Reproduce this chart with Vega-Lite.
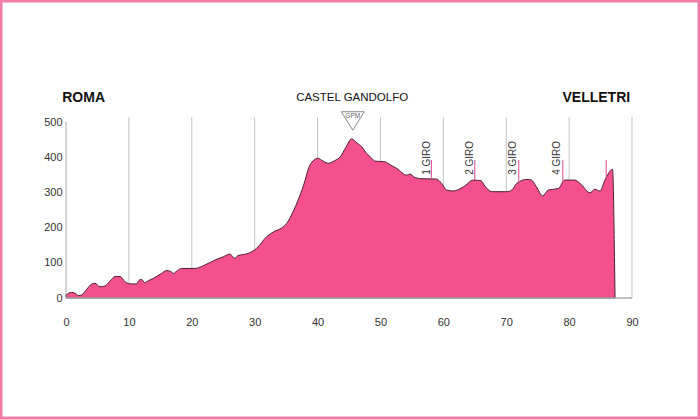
{
  "$schema": "https://vega.github.io/schema/vega-lite/v6.json",
  "width": 700,
  "height": 419,
  "autosize": {"type": "none"},
  "padding": 0,
  "background": "white",
  "config": {
    "view": {"stroke": "#f07ca8", "strokeWidth": 5},
    "font": "Liberation Sans",
    "text": {"font": "Liberation Sans"},
    "axis": {"labelFont": "Liberation Sans", "labelFontSize": 11, "labelColor": "#333333", "title": null}
  },
  "datasets": {
    "profile": [
      {"km": 0, "elev": 9}, {"km": 0.9, "elev": 16}, {"km": 1.4, "elev": 14}, {"km": 2.0, "elev": 7},
      {"km": 2.5, "elev": 9}, {"km": 3.3, "elev": 25}, {"km": 4.1, "elev": 40}, {"km": 4.6, "elev": 42},
      {"km": 5.4, "elev": 32}, {"km": 6.2, "elev": 34}, {"km": 7.0, "elev": 48}, {"km": 7.8, "elev": 61},
      {"km": 8.6, "elev": 61}, {"km": 9.4, "elev": 46}, {"km": 10.4, "elev": 40}, {"km": 11.2, "elev": 40},
      {"km": 11.6, "elev": 50}, {"km": 12.0, "elev": 53}, {"km": 12.5, "elev": 44}, {"km": 13.2, "elev": 50},
      {"km": 13.9, "elev": 56}, {"km": 15.2, "elev": 70}, {"km": 16.0, "elev": 78}, {"km": 16.6, "elev": 76},
      {"km": 17.1, "elev": 70}, {"km": 17.7, "elev": 78}, {"km": 18.4, "elev": 84}, {"km": 20.5, "elev": 84},
      {"km": 22.1, "elev": 94}, {"km": 23.7, "elev": 108}, {"km": 25.0, "elev": 117}, {"km": 26.1, "elev": 125},
      {"km": 26.6, "elev": 115}, {"km": 26.9, "elev": 113}, {"km": 27.3, "elev": 120}, {"km": 27.7, "elev": 122},
      {"km": 29.0, "elev": 127}, {"km": 30.3, "elev": 141}, {"km": 31.9, "elev": 174}, {"km": 33.0, "elev": 188},
      {"km": 34.2, "elev": 198}, {"km": 35.1, "elev": 212}, {"km": 36.1, "elev": 245}, {"km": 37.7, "elev": 316},
      {"km": 38.8, "elev": 378}, {"km": 40.1, "elev": 397}, {"km": 40.6, "elev": 392}, {"km": 41.7, "elev": 383},
      {"km": 42.7, "elev": 390}, {"km": 43.6, "elev": 401}, {"km": 44.5, "elev": 428}, {"km": 45.4, "elev": 452},
      {"km": 46.3, "elev": 440}, {"km": 47.0, "elev": 430}, {"km": 47.8, "elev": 411}, {"km": 48.6, "elev": 397},
      {"km": 49.1, "elev": 389}, {"km": 50.7, "elev": 387}, {"km": 51.6, "elev": 378}, {"km": 52.6, "elev": 368},
      {"km": 54.2, "elev": 349}, {"km": 54.7, "elev": 352}, {"km": 55.5, "elev": 342}, {"km": 56.6, "elev": 339},
      {"km": 58.9, "elev": 338}, {"km": 59.7, "elev": 326}, {"km": 60.5, "elev": 307}, {"km": 61.6, "elev": 304},
      {"km": 63.2, "elev": 316}, {"km": 64.8, "elev": 335}, {"km": 66.0, "elev": 333}, {"km": 66.6, "elev": 318},
      {"km": 67.7, "elev": 302}, {"km": 70.1, "elev": 302}, {"km": 70.9, "elev": 307}, {"km": 71.7, "elev": 326},
      {"km": 73.3, "elev": 337}, {"km": 74.0, "elev": 335}, {"km": 74.8, "elev": 316}, {"km": 75.8, "elev": 290},
      {"km": 76.7, "elev": 307}, {"km": 78.3, "elev": 311}, {"km": 79.3, "elev": 335}, {"km": 80.9, "elev": 335},
      {"km": 82.0, "elev": 321}, {"km": 83.3, "elev": 299}, {"km": 84.1, "elev": 309}, {"km": 84.9, "elev": 304},
      {"km": 85.7, "elev": 335}, {"km": 86.9, "elev": 366}, {"km": 87.3, "elev": 0}
    ],
    "grid": [
      {"km": 10}, {"km": 20}, {"km": 30}, {"km": 40}, {"km": 50}, {"km": 60}, {"km": 70}, {"km": 80}, {"km": 90}
    ],
    "giro": [
      {"km": 58.1, "top": 392, "bottom": 338, "label": "1 GIRO", "labelKm": 57.4},
      {"km": 65.0, "top": 392, "bottom": 335, "label": "2 GIRO", "labelKm": 64.2},
      {"km": 72.0, "top": 392, "bottom": 330, "label": "3 GIRO", "labelKm": 71.1},
      {"km": 79.0, "top": 392, "bottom": 330, "label": "4 GIRO", "labelKm": 78.0},
      {"km": 85.9, "top": 392, "bottom": 340, "label": "", "labelKm": 85.2}
    ],
    "places": [
      {"km": -0.6, "elev": 568, "name": "ROMA", "pos": "left"},
      {"km": 45.5, "elev": 568, "name": "CASTEL GANDOLFO", "pos": "center"},
      {"km": 89.7, "elev": 568, "name": "VELLETRI", "pos": "right"}
    ],
    "gpm": [
      {"km": 45.6, "elev": 503, "textElev": 517, "label": "GPM"}
    ]
  },
  "layer": [
    {
      "data": {"name": "grid"},
      "mark": {"type": "rule", "color": "#c4c4c4", "strokeWidth": 1},
      "encoding": {
        "x": {"field": "km", "type": "quantitative", "title": null,
          "scale": {"domain": [-10.494, 100.81], "nice": false, "zero": false},
          "axis": {"title": null, "orient": "bottom", "offset": -121, "values": [0, 10, 20, 30, 40, 50, 60, 70, 80, 90], "domain": false, "ticks": false, "grid": false, "labelPadding": 18}},
        "y": {"datum": 0, "type": "quantitative", "title": null,
          "scale": {"domain": [-343.7, 846.6], "nice": false, "zero": false},
          "axis": {"title": null, "orient": "left", "offset": -66, "values": [0, 100, 200, 300, 400, 500], "domain": false, "ticks": false, "grid": false, "labelPadding": 4}},
        "y2": {"datum": 514}
      }
    },
    {
      "data": {"name": "profile"},
      "mark": {"type": "area", "color": "#f5508e", "stroke": "#4a2030", "strokeWidth": 1, "interpolate": "monotone", "opacity": 1},
      "encoding": {
        "x": {"field": "km", "type": "quantitative"},
        "y": {"field": "elev", "type": "quantitative"}
      }
    },
    {
      "data": {"values": [{"a": 1}]},
      "mark": {"type": "rule", "color": "#aaaaaa", "strokeWidth": 1.5},
      "encoding": {
        "x": {"datum": 0, "type": "quantitative"},
        "x2": {"datum": 90},
        "y": {"datum": 0, "type": "quantitative"}
      }
    },
    {
      "data": {"values": [{"a": 1}]},
      "mark": {"type": "rule", "color": "#aaaaaa", "strokeWidth": 1},
      "encoding": {
        "x": {"datum": 0, "type": "quantitative"},
        "y": {"datum": 0, "type": "quantitative"},
        "y2": {"datum": 500}
      }
    },
    {
      "data": {"name": "giro"},
      "mark": {"type": "rule", "color": "#d9478a", "strokeWidth": 1},
      "encoding": {
        "x": {"field": "km", "type": "quantitative"},
        "y": {"field": "top", "type": "quantitative"},
        "y2": {"field": "bottom"}
      }
    },
    {
      "data": {"name": "giro"},
      "mark": {"type": "text", "angle": 270, "align": "left", "baseline": "middle", "fontSize": 10, "color": "#333333"},
      "encoding": {
        "x": {"field": "labelKm", "type": "quantitative"},
        "y": {"datum": 350, "type": "quantitative"},
        "text": {"field": "label"}
      }
    },
    {
      "data": {"name": "gpm"},
      "mark": {"type": "point", "shape": "M -1 -0.8 L 1 -0.8 L 0 0.8 Z", "size": 529, "filled": true, "fill": "white", "stroke": "#888888", "strokeWidth": 1, "opacity": 1},
      "encoding": {
        "x": {"field": "km", "type": "quantitative"},
        "y": {"field": "elev", "type": "quantitative"}
      }
    },
    {
      "data": {"name": "gpm"},
      "mark": {"type": "text", "fontSize": 6.5, "color": "#666666", "baseline": "middle", "align": "center"},
      "encoding": {
        "x": {"field": "km", "type": "quantitative"},
        "y": {"field": "textElev", "type": "quantitative"},
        "text": {"field": "label"}
      }
    },
    {
      "data": {"name": "places"},
      "transform": [{"filter": "datum.pos == 'left'"}],
      "mark": {"type": "text", "align": "left", "baseline": "middle", "fontSize": 14, "fontWeight": "bold", "color": "#111111"},
      "encoding": {
        "x": {"field": "km", "type": "quantitative"},
        "y": {"field": "elev", "type": "quantitative"},
        "text": {"field": "name"}
      }
    },
    {
      "data": {"name": "places"},
      "transform": [{"filter": "datum.pos == 'center'"}],
      "mark": {"type": "text", "align": "center", "baseline": "middle", "fontSize": 11.5, "color": "#111111"},
      "encoding": {
        "x": {"field": "km", "type": "quantitative"},
        "y": {"field": "elev", "type": "quantitative"},
        "text": {"field": "name"}
      }
    },
    {
      "data": {"name": "places"},
      "transform": [{"filter": "datum.pos == 'right'"}],
      "mark": {"type": "text", "align": "right", "baseline": "middle", "fontSize": 14, "fontWeight": "bold", "color": "#111111"},
      "encoding": {
        "x": {"field": "km", "type": "quantitative"},
        "y": {"field": "elev", "type": "quantitative"},
        "text": {"field": "name"}
      }
    }
  ]
}
